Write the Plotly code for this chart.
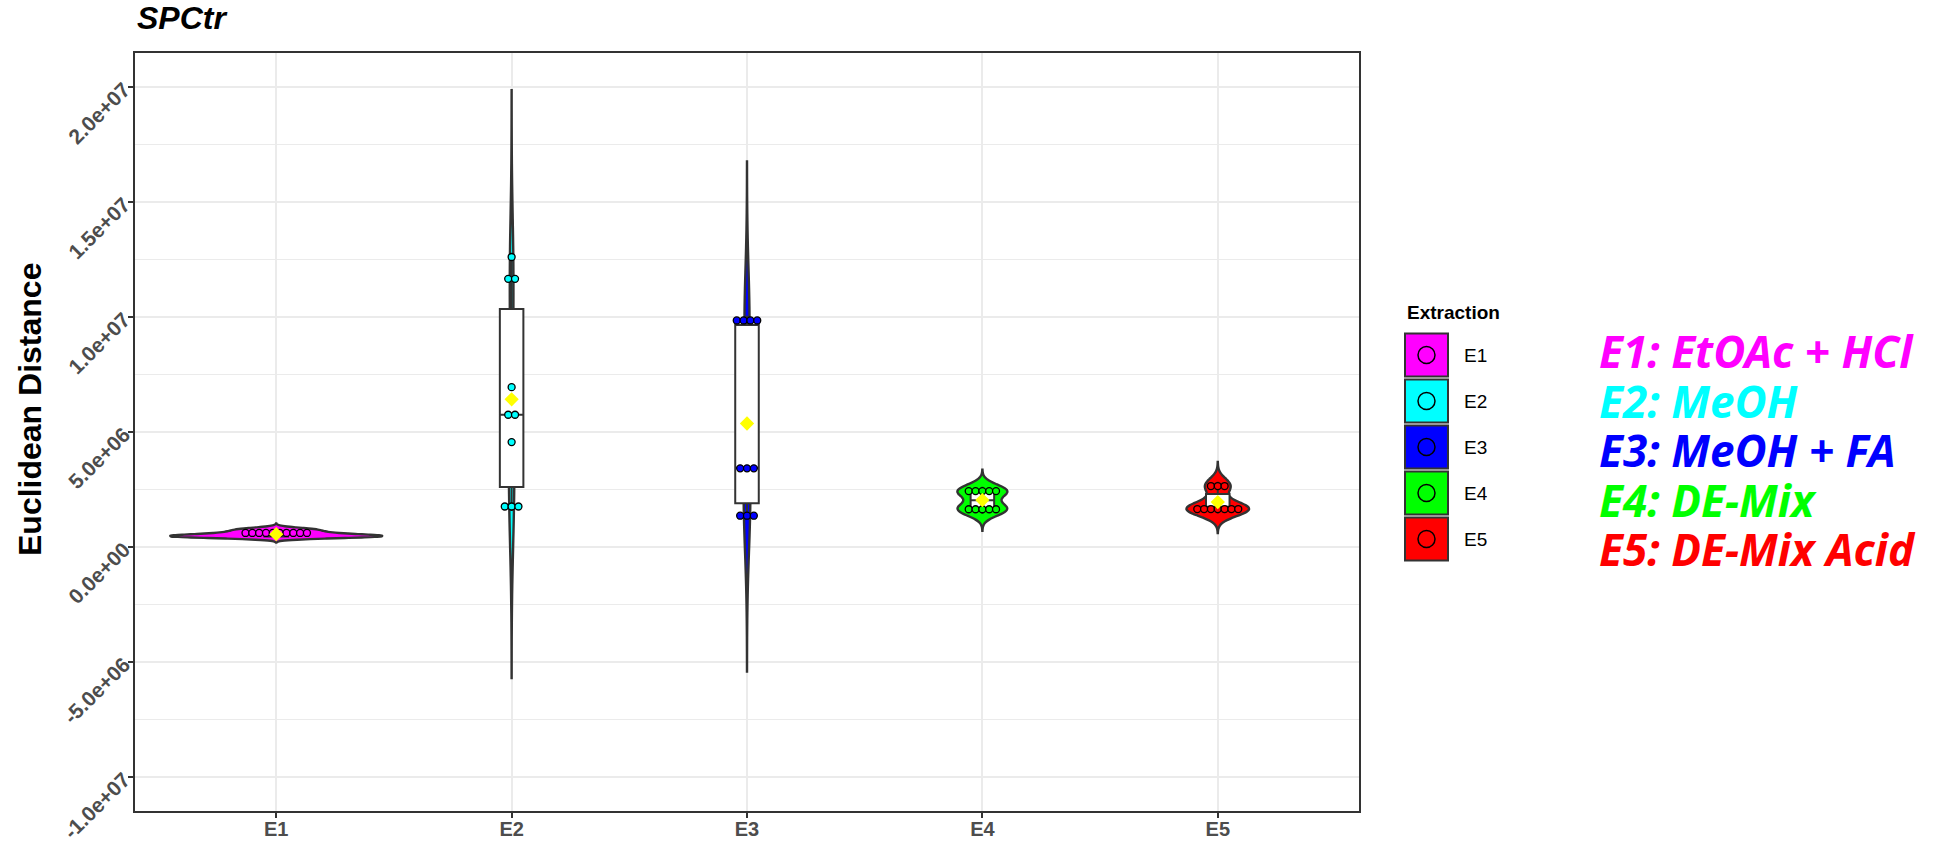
import numpy as np
import plotly.graph_objects as go

categories = ['E1', 'E2', 'E3', 'E4', 'E5']
colors = ['#FF00FF', '#00FFFF', '#0000FF', '#00FF00', '#FF0000']
descriptions = ['E1: EtOAc + HCl', 'E2: MeOH', 'E3: MeOH + FA', 'E4: DE-Mix', 'E5: DE-Mix Acid']

# euclidean distance per sample
e1 = [4.2e5, 4.3e5, 4.5e5, 4.7e5, 5.0e5, 5.3e5, 5.8e5, 6.5e5, 7.3e5, 8.0e5]
e2 = [1.56e6, 1.76e6, 1.96e6, 4.56e6, 5.70e6, 5.80e6, 6.95e6, 1.148e7, 1.184e7, 1.261e7]
e3 = [1.30e6, 1.36e6, 1.42e6, 3.36e6, 3.42e6, 3.48e6, 9.65e6, 9.66e6, 1.000e7, 1.005e7]
e4 = [1.45e6, 1.55e6, 1.65e6, 1.75e6, 1.83e6, 2.24e6, 2.34e6, 2.43e6, 2.52e6, 2.62e6]
e5 = [1.46e6, 1.53e6, 1.60e6, 1.66e6, 1.72e6, 1.78e6, 1.84e6, 2.46e6, 2.65e6, 2.84e6]
groups = [e1, e2, e3, e4, e5]

y_ticks = [-1.0e7, -5.0e6, 0.0, 5.0e6, 1.0e7, 1.5e7, 2.0e7]

W, H = 1947, 845
L, R, T, B = 135, 1359, 53, 811   # panel box in pixels


def px(x, y):
    # pixel -> paper coords of the panel
    return (x - L) / (R - L), (B - y) / (B - T)


def nrd0(v):
    v = np.asarray(v)
    iqr = np.subtract(*np.percentile(v, [75, 25]))
    return 0.9 * min(np.std(v, ddof=1), iqr / 1.34) * len(v) ** -0.2


def kde_peak(v, bw):
    v = np.asarray(v)
    g = np.linspace(v.min() - 3 * bw, v.max() + 3 * bw, 512)
    d = np.exp(-0.5 * ((g[:, None] - v[None, :]) / bw) ** 2).sum(1)
    return d.max() / (len(v) * bw * np.sqrt(2 * np.pi))


def dot_bins(v, bw):
    v = sorted(v)
    bins, cur = [], [v[0]]
    for a in v[1:]:
        if a - cur[0] < bw:
            cur.append(a)
        else:
            bins.append(cur)
            cur = [a]
    bins.append(cur)
    return [((b[0] + b[-1]) / 2, len(b)) for b in bins]


allv = np.concatenate(groups)
binwidth = (allv.max() - allv.min()) / 30
dot_step = 0.029

bws = [nrd0(v) for v in groups]
peaks = [kde_peak(v, b) for v, b in zip(groups, bws)]

fig = go.Figure()

# violins scaled by area like ggplot: widest one gets 0.9
for i, (v, c) in enumerate(zip(groups, colors)):
    bw = bws[i]
    fig.add_trace(go.Violin(
        x=[i] * len(v), y=v, fillcolor=c, line=dict(color='#333333', width=2.4),
        opacity=1, points=False, bandwidth=bw, spanmode='manual',
        span=[min(v) - 3 * bw, max(v) + 3 * bw], scalemode='width',
        width=0.9 * peaks[i] / max(peaks), showlegend=False, hoverinfo='skip'))

for i, v in enumerate(groups):
    q1, med, q3 = np.percentile(v, [25, 50, 75])
    iqr = q3 - q1
    lo = min(a for a in v if a >= q1 - 1.5 * iqr)
    hi = max(a for a in v if a <= q3 + 1.5 * iqr)
    fig.add_trace(go.Box(
        x=[i], q1=[q1], median=[med], q3=[q3], lowerfence=[lo], upperfence=[hi],
        width=0.1, fillcolor='white', line=dict(color='#333333', width=2),
        whiskerwidth=0, showlegend=False, hoverinfo='skip'))

for i, (v, c) in enumerate(zip(groups, colors)):
    xs, ys = [], []
    for center, n in dot_bins(v, binwidth):
        for k in range(n):
            xs.append(i + (k - (n - 1) / 2) * dot_step)
            ys.append(center)
    fig.add_trace(go.Scatter(
        x=xs, y=ys, mode='markers', showlegend=False, hoverinfo='skip',
        marker=dict(size=7, color=c, line=dict(color='black', width=1.3))))

fig.add_trace(go.Scatter(
    x=list(range(len(groups))), y=[np.mean(v) for v in groups], mode='markers',
    showlegend=False, hoverinfo='skip',
    marker=dict(symbol='diamond', size=11, color='#FFFF00', line=dict(width=0))))

xtick_font = dict(family='Liberation Sans', size=20, color='#4D4D4D', weight='bold')
ytick_font = dict(family='Liberation Sans', size=21, color='#4D4D4D', weight='bold')

fig.update_layout(
    width=W, height=H, plot_bgcolor='white', paper_bgcolor='white',
    margin=dict(l=L, r=W - R, t=T, b=H - B, autoexpand=False),
    violinmode='overlay', boxmode='overlay',
    xaxis=dict(range=[-0.6, 4.6], tickvals=list(range(len(categories))), ticktext=categories,
               showgrid=True, gridcolor='#EBEBEB', gridwidth=1.6, zeroline=False,
               showline=True, linecolor='#333333', linewidth=1.6, mirror=True,
               ticks='outside', ticklen=5, tickwidth=1.5, tickcolor='#333333',
               tickfont=xtick_font, automargin=False, ticklabelstandoff=-6),
    yaxis=dict(range=[-1.148e7, 2.148e7], tickvals=y_ticks,
               ticktext=[f'{t:.1e}' for t in y_ticks], tickangle=-45,
               showgrid=True, gridcolor='#EBEBEB', gridwidth=1.6, zeroline=False,
               minor=dict(dtick=2.5e6, tick0=0, showgrid=True, gridcolor='#EBEBEB', gridwidth=0.8),
               showline=True, linecolor='#333333', linewidth=1.6, mirror=True,
               ticks='outside', ticklen=5, tickwidth=1.5, tickcolor='#333333',
               tickfont=ytick_font, automargin=False, ticklabeloverflow='allow'),
)

sx, sy = px(L, 18)
fig.add_annotation(text='<b><i>SPCtr</i></b>', xref='paper', yref='paper', x=sx, y=sy,
                   xanchor='left', yanchor='middle', showarrow=False,
                   font=dict(family='Liberation Sans', size=32, color='black'))

ax, ay = px(30, 410)
fig.add_annotation(text='<b>Euclidean Distance</b>', xref='paper', yref='paper', x=ax, y=ay,
                   xanchor='center', yanchor='middle', textangle=-90, showarrow=False,
                   font=dict(family='Liberation Sans', size=32, color='black'))

# legend built by hand: square keys with a dot inside
tx, ty = px(1405, 312)
fig.add_annotation(text='<b>Extraction</b>', xref='paper', yref='paper', x=tx, y=ty,
                   xanchor='left', yanchor='middle', showarrow=False,
                   font=dict(family='Liberation Sans', size=19, color='black'))
for k, (cat, c) in enumerate(zip(categories, colors)):
    cy = 355 + 46 * k
    x0, y0 = px(1405, cy + 21.5)
    x1, y1 = px(1448, cy - 21.5)
    fig.add_shape(type='rect', xref='paper', yref='paper', x0=x0, y0=y0, x1=x1, y1=y1,
                  fillcolor=c, line=dict(color='#333333', width=2))
    x0, y0 = px(1426.5 - 8.5, cy + 8.5)
    x1, y1 = px(1426.5 + 8.5, cy - 8.5)
    fig.add_shape(type='circle', xref='paper', yref='paper', x0=x0, y0=y0, x1=x1, y1=y1,
                  line=dict(color='black', width=1.5))
    lx, ly = px(1462, cy)
    fig.add_annotation(text=cat, xref='paper', yref='paper', x=lx, y=ly, xanchor='left',
                       yanchor='middle', showarrow=False, height=24,
                       font=dict(family='Liberation Sans', size=19, color='black'))

for k, (d, c) in enumerate(zip(descriptions, colors)):
    dx, dy = px(1597, 351 + 49.5 * k)
    fig.add_annotation(text=d, xref='paper', yref='paper', x=dx, y=dy, xanchor='left',
                       yanchor='middle', showarrow=False, height=46,
                       font=dict(family='Noto Sans', size=44, color=c, weight='bold',
                                 style='italic'))

# page body has an 8px default margin; drop it so the figure sits at 0,0
fig.write_html('out.html', config={'displayModeBar': False},
               post_script="document.body.style.margin='0';")
